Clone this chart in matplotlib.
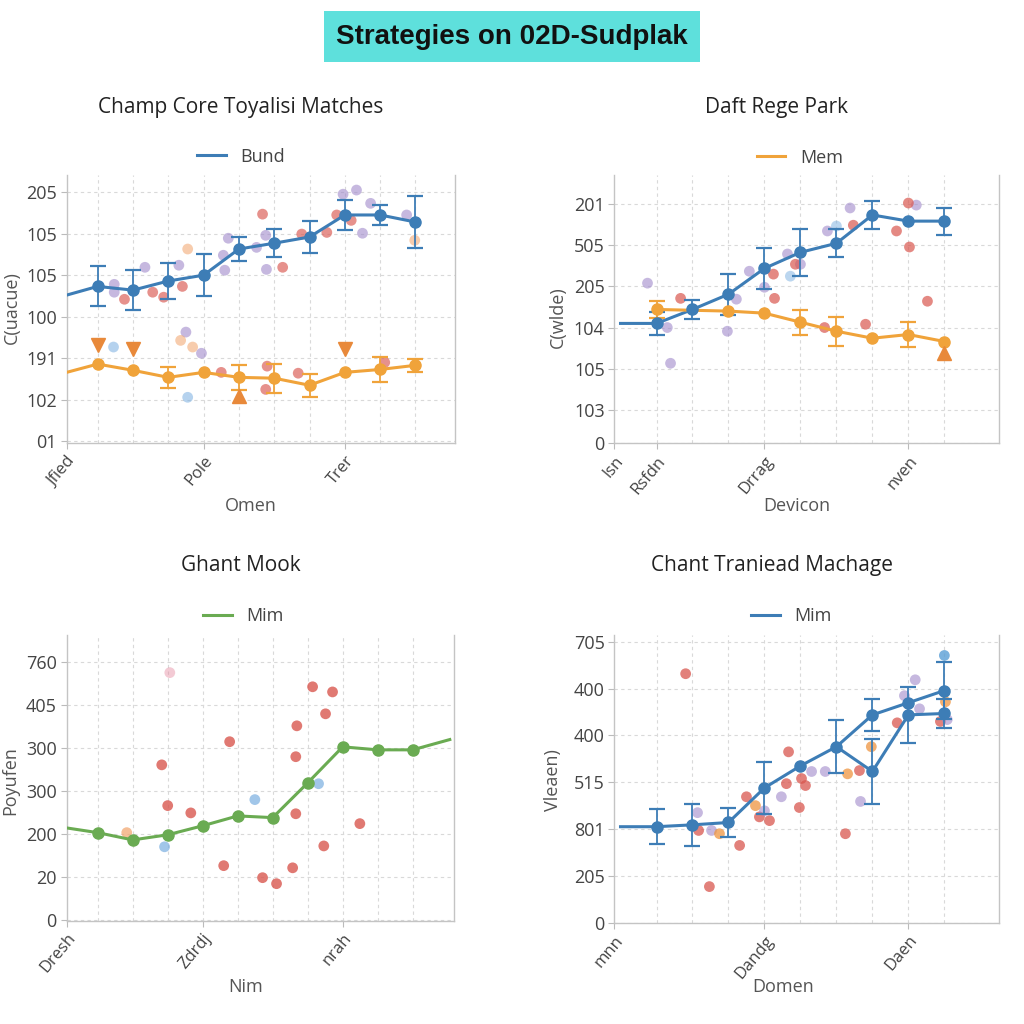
"""Four panel strategy chart: lines with error bars over scattered dots."""
import matplotlib
matplotlib.use('Agg')
import matplotlib.pyplot as plt

plt.rcParams.update({
    'font.family': ['Open Sans', 'DejaVu Sans'],
    'font.size': 12,
    'axes.linewidth': 1.0,
})

C_BLUE = '#3d7db6'
C_ORANGE = '#f0a33a'
C_GREEN = '#6aab52'
C_RED = '#d9574f'
C_PURPLE = '#a08acb'
C_LBLUE = '#79aee0'
C_PINK = '#e58aa0'
C_LORANGE = '#f2a36a'

# ---- panel 1 : Champ Core Toyalisi Matches ----
p1_ylabels = ['01', '102', '191', '100', '105', '105', '205']
p1_xlabels = ['Jfied', 'Pole', 'Trer']
p1_xticks = [0.12, 4, 8]
p1_blue_x = [0.12, 1, 2, 3, 4, 5, 6, 7, 8, 9, 10]
p1_blue_y = [3.52, 3.73, 3.64, 3.86, 4.00, 4.63, 4.77, 4.92, 5.45, 5.45, 5.28]
p1_blue_err = [0, 0.48, 0.48, 0.43, 0.50, 0.29, 0.34, 0.38, 0.36, 0.25, 0.63]
p1_orange_x = [0.12, 1, 2, 3, 4, 5, 6, 7, 8, 9, 10]
p1_orange_y = [1.66, 1.86, 1.71, 1.54, 1.66, 1.54, 1.52, 1.35, 1.66, 1.73, 1.83]
p1_orange_err = [0, 0, 0, 0.25, 0, 0.3, 0.35, 0.28, 0, 0.3, 0.15]
p1_tri_down_x = [1, 2, 8]
p1_tri_down_y = [2.31, 2.22, 2.22]
p1_tri_up_x = [5]
p1_tri_up_y = [1.08]
p1_purple_x = [1.47, 1.47, 2.34, 3.3, 4.7, 4.6, 4.56, 5.5, 5.76, 5.78, 7.95, 8.33, 8.73, 8.5, 9.75, 3.5, 3.94]
p1_purple_y = [3.78, 3.59, 4.19, 4.24, 4.89, 4.12, 4.48, 4.67, 4.96, 4.14, 5.95, 6.05, 5.73, 5.01, 5.45, 2.63, 2.12]
p1_red_x = [1.76, 2.56, 2.87, 3.4, 5.67, 6.24, 7.49, 7.77, 6.78, 8.18, 4.5, 5.8, 5.76, 6.68, 9.13]
p1_red_y = [3.42, 3.59, 3.47, 3.73, 5.47, 4.19, 5.03, 5.45, 4.99, 5.32, 1.66, 1.81, 1.25, 1.64, 1.90]
p1_lorange_x = [3.55, 3.35, 3.69, 9.98]
p1_lorange_y = [4.63, 2.43, 2.27, 4.84]
p1_lblue_x = [1.45, 3.55]
p1_lblue_y = [2.27, 1.06]

# ---- panel 2 : Daft Rege Park ----
p2_ylabels = ['0', '103', '105', '104', '205', '505', '201']
p2_yticks = [0, 0.8, 1.8, 2.8, 3.8, 4.8, 5.8]
p2_xlabels = ['lsn', 'Rsfdn', 'Drrag', 'nven']
p2_xticks = [-0.17, 1, 4, 8]
p2_blue_x = [0, 1, 2, 3, 4, 5, 6, 7, 8, 9]
p2_blue_y = [2.90, 2.90, 3.24, 3.61, 4.24, 4.63, 4.85, 5.54, 5.39, 5.39]
p2_blue_err = [0, 0.29, 0.24, 0.50, 0.50, 0.58, 0.34, 0.35, 0, 0.33]
p2_orange_x = [1, 3, 4, 5, 6, 7, 8, 9]
p2_orange_y = [3.24, 3.20, 3.15, 2.93, 2.71, 2.54, 2.63, 2.46]
p2_orange_err = [0.2, 0, 0, 0.3, 0.35, 0, 0.3, 0]
p2_tri_up_x = [9]
p2_tri_up_y = [2.17]
p2_purple_x = [0.75, 1.3, 1.39, 2.97, 3.22, 3.58, 4.0, 4.64, 5.0, 5.75, 6.38, 8.22]
p2_purple_y = [3.88, 2.80, 1.93, 2.71, 3.49, 4.17, 3.78, 4.59, 4.34, 5.15, 5.71, 5.78]
p2_red_x = [1.67, 4.25, 4.28, 4.86, 5.67, 6.47, 6.81, 7.67, 8.0, 8.03, 8.53]
p2_red_y = [3.51, 4.10, 3.51, 4.34, 2.80, 5.29, 2.88, 5.15, 5.83, 4.76, 3.44]
p2_lblue_x = [4.72, 6.0]
p2_lblue_y = [4.05, 5.27]

# ---- panel 3 : Ghant Mook ----
p3_ylabels = ['0', '20', '200', '300', '300', '405', '760']
p3_xlabels = ['Dresh', 'Zdrdj', 'nrah']
p3_xticks = [0.11, 4, 8]
p3_green_x = [0.11, 1, 2, 3, 4, 5, 6, 7, 8, 9, 10, 11.06]
p3_green_y = [2.14, 2.03, 1.86, 1.98, 2.19, 2.42, 2.38, 3.19, 4.03, 3.96, 3.96, 4.20]
p3_green_mk = [False, True, True, True, True, True, True, True, True, True, True, False]
p3_red_x = [2.83, 3.0, 3.66, 4.77, 4.6, 5.71, 6.11, 6.57, 6.66, 6.66, 6.69, 7.14, 7.71, 7.51, 7.46, 8.49]
p3_red_y = [3.61, 2.66, 2.49, 4.15, 1.26, 0.98, 0.84, 1.21, 2.47, 3.80, 4.52, 5.43, 5.31, 4.80, 1.72, 2.24]
p3_pink_x = [3.06]
p3_pink_y = [5.76]
p3_orange_x = [1.83]
p3_orange_y = [2.03]
p3_blue_x = [2.91, 5.49, 7.31]
p3_blue_y = [1.70, 2.80, 3.17]

# ---- panel 4 : Chant Traniead Machage ----
p4_ylabels = ['0', '205', '801', '515', '400', '400', '705']
p4_xlabels = ['mnn', 'Dandg', 'Daen']
p4_xticks = [-0.17, 4, 8]
p4_a_x = [0, 1, 2, 3, 4, 5, 6, 7, 8, 9]
p4_a_y = [2.05, 2.05, 2.09, 2.14, 2.88, 3.35, 3.76, 4.44, 4.70, 4.96]
p4_a_err = [0, 0.38, 0.45, 0.30, 0.55, 0, 0.57, 0.34, 0, 0.60]
p4_b_x = [6, 7, 8, 9]
p4_b_y = [3.76, 3.23, 4.44, 4.47]
p4_b_err = [0, 0.70, 0.60, 0.30]
p4_red_x = [1.81, 2.47, 3.31, 3.5, 3.86, 4.14, 2.17, 4.67, 4.61, 4.97, 5.03, 5.14, 6.64, 6.25, 7.69, 8.89]
p4_red_y = [5.32, 0.77, 1.65, 2.69, 2.26, 2.18, 1.97, 3.65, 2.97, 2.46, 3.08, 2.93, 3.25, 1.90, 4.27, 4.30]
p4_purple_x = [4.0, 2.53, 2.14, 4.47, 5.31, 5.69, 6.67, 7.89, 8.19, 8.31, 9.08]
p4_purple_y = [2.39, 1.97, 2.35, 2.69, 3.23, 3.23, 2.59, 4.85, 5.19, 4.57, 4.34]
p4_orange_x = [3.75, 2.75, 6.31, 6.97, 9.03]
p4_orange_y = [2.50, 1.90, 3.18, 3.76, 4.72]
p4_blue_x = [9.0]
p4_blue_y = [5.71]

GRID_KW = dict(color='#d9d9d9', lw=0.8, ls=(0, (3, 3)))


def style_axes(ax, xlim, ylim, yticks, ylabels, xticks, xlabels, vlines):
    ax.set_xlim(*xlim)
    ax.set_ylim(*ylim)
    ax.set_yticks(yticks)
    ax.set_yticklabels(ylabels, fontsize=13, color='#444444')
    ax.set_xticks(xticks)
    ax.set_xticklabels(xlabels, rotation=50, ha='right', rotation_mode='anchor',
                       fontsize=12, color='#444444')
    for y in yticks:
        ax.axhline(y, zorder=0, **GRID_KW)
    for x in vlines:
        ax.axvline(x, zorder=0, **GRID_KW)
    ax.spines['top'].set_visible(False)
    for s in ('left', 'bottom', 'right'):
        ax.spines[s].set_color('#c4c4c4')
    ax.tick_params(axis='both', length=4, color='#bbbbbb', pad=3)


def dots(ax, x, y, color, alpha=0.75):
    ax.scatter(x, y, s=60, color=color, alpha=alpha, edgecolors='none', zorder=2)


def line_err(ax, x, y, err, color, mk=True):
    ax.plot(x, y, '-', color=color, lw=2.2, zorder=3)
    if mk:
        ax.plot(x[1:], y[1:], 'o', color=color, ms=8, zorder=4)
    ex = [a for a, e in zip(x, err) if e > 0]
    ey = [b for b, e in zip(y, err) if e > 0]
    ee = [e for e in err if e > 0]
    ax.errorbar(ex, ey, yerr=ee, fmt='none', ecolor=color, elinewidth=1.3,
                capsize=6, capthick=1.6, zorder=3)


fig = plt.figure(figsize=(10.24, 10.24), dpi=100)

fig.text(0.5, 0.964, 'Strategies on 02D-Sudplak', ha='center', va='center',
         fontsize=20, fontweight='bold', color='#111111',
         family=['Liberation Sans', 'DejaVu Sans'],
         bbox=dict(boxstyle='square,pad=0.45', fc='#5ee0dc', ec='none'))

ax1 = fig.add_axes([0.065, 0.567, 0.379, 0.262])
ax2 = fig.add_axes([0.600, 0.567, 0.376, 0.262])
ax3 = fig.add_axes([0.065, 0.101, 0.378, 0.279])
ax4 = fig.add_axes([0.600, 0.099, 0.376, 0.281])

# panel 1
style_axes(ax1, (0.12, 11.11), (-0.05, 6.41), range(7), p1_ylabels,
           p1_xticks, p1_xlabels, range(1, 11))
dots(ax1, p1_purple_x, p1_purple_y, C_PURPLE, 0.6)
dots(ax1, p1_red_x, p1_red_y, C_RED, 0.65)
dots(ax1, p1_lorange_x, p1_lorange_y, C_LORANGE, 0.55)
dots(ax1, p1_lblue_x, p1_lblue_y, C_LBLUE, 0.55)
line_err(ax1, p1_blue_x, p1_blue_y, p1_blue_err, C_BLUE)
line_err(ax1, p1_orange_x, p1_orange_y, p1_orange_err, C_ORANGE)
ax1.plot(p1_tri_down_x, p1_tri_down_y, 'v', color='#e8893a', ms=10, zorder=4)
ax1.plot(p1_tri_up_x, p1_tri_up_y, '^', color='#e8893a', ms=10, zorder=4)
ax1.plot([], [], '-', color=C_BLUE, lw=2.2, label='Bund')
ax1.legend(loc='center', bbox_to_anchor=(0.235, 0.847), bbox_transform=fig.transFigure,
           frameon=False, fontsize=13, handlelength=1.6, labelcolor='#444444')

# panel 2
style_axes(ax2, (-0.17, 10.53), (-0.02, 6.51), p2_yticks, p2_ylabels,
           p2_xticks, p2_xlabels, range(1, 10))
dots(ax2, p2_purple_x, p2_purple_y, C_PURPLE, 0.6)
dots(ax2, p2_red_x, p2_red_y, C_RED, 0.7)
dots(ax2, p2_lblue_x, p2_lblue_y, C_LBLUE, 0.5)
line_err(ax2, p2_blue_x, p2_blue_y, p2_blue_err, C_BLUE)
ax2.plot(p2_orange_x, p2_orange_y, '-', color=C_ORANGE, lw=2.2, zorder=3)
ax2.plot(p2_orange_x, p2_orange_y, 'o', color=C_ORANGE, ms=8, zorder=4)
ax2.errorbar([a for a, e in zip(p2_orange_x, p2_orange_err) if e > 0],
             [b for b, e in zip(p2_orange_y, p2_orange_err) if e > 0],
             yerr=[e for e in p2_orange_err if e > 0], fmt='none', ecolor=C_ORANGE,
             elinewidth=1.3, capsize=6, capthick=1.6, zorder=3)
ax2.plot(p2_tri_up_x, p2_tri_up_y, '^', color='#e8893a', ms=10, zorder=4)
ax2.plot([], [], '-', color=C_ORANGE, lw=2.2, label='Mem')
ax2.legend(loc='center', bbox_to_anchor=(0.781, 0.846), bbox_transform=fig.transFigure,
           frameon=False, fontsize=13, handlelength=1.6, labelcolor='#444444')

# panel 3
style_axes(ax3, (0.11, 11.17), (-0.02, 6.64), range(7), p3_ylabels,
           p3_xticks, p3_xlabels, range(1, 11))
dots(ax3, p3_red_x, p3_red_y, C_RED, 0.8)
dots(ax3, p3_pink_x, p3_pink_y, C_PINK, 0.45)
dots(ax3, p3_orange_x, p3_orange_y, C_LORANGE, 0.7)
dots(ax3, p3_blue_x, p3_blue_y, C_LBLUE, 0.7)
ax3.plot(p3_green_x, p3_green_y, '-', color=C_GREEN, lw=2.2, zorder=3)
ax3.plot([a for a, m in zip(p3_green_x, p3_green_mk) if m],
         [b for b, m in zip(p3_green_y, p3_green_mk) if m], 'o', color=C_GREEN, ms=8, zorder=4)
ax3.plot([], [], '-', color=C_GREEN, lw=2.2, label='Mim')
ax3.legend(loc='center', bbox_to_anchor=(0.238, 0.398), bbox_transform=fig.transFigure,
           frameon=False, fontsize=13, handlelength=1.6, labelcolor='#444444')

# panel 4
style_axes(ax4, (-0.17, 10.53), (0, 6.15), range(7), p4_ylabels,
           p4_xticks, p4_xlabels, range(1, 10))
dots(ax4, p4_red_x, p4_red_y, C_RED, 0.75)
dots(ax4, p4_purple_x, p4_purple_y, C_PURPLE, 0.6)
dots(ax4, p4_orange_x, p4_orange_y, '#ee9440', 0.75)
dots(ax4, p4_blue_x, p4_blue_y, '#5a9fd6', 0.8)
line_err(ax4, p4_a_x, p4_a_y, p4_a_err, C_BLUE)
ax4.plot(p4_b_x, p4_b_y, '-', color=C_BLUE, lw=2.2, zorder=3)
ax4.plot(p4_b_x[1:], p4_b_y[1:], 'o', color=C_BLUE, ms=8, zorder=4)
ax4.errorbar(p4_b_x[1:], p4_b_y[1:], yerr=p4_b_err[1:], fmt='none', ecolor=C_BLUE,
             elinewidth=1.3, capsize=6, capthick=1.6, zorder=3)
ax4.plot([], [], '-', color=C_BLUE, lw=2.2, label='Mim')
ax4.legend(loc='center', bbox_to_anchor=(0.773, 0.398), bbox_transform=fig.transFigure,
           frameon=False, fontsize=13, handlelength=1.6, labelcolor='#444444')

# titles and axis labels
for x, y, t in [(0.235, 0.895, 'Champ Core Toyalisi Matches'), (0.758, 0.895, 'Daft Rege Park'),
                (0.235, 0.448, 'Ghant Mook'), (0.754, 0.448, 'Chant Traniead Machage')]:
    fig.text(x, y, t, ha='center', va='center', fontsize=15, color='#222222')
for x, y, t in [(0.245, 0.506, 'Omen'), (0.778, 0.506, 'Devicon'),
                (0.240, 0.036, 'Nim'), (0.765, 0.036, 'Domen')]:
    fig.text(x, y, t, ha='center', va='center', fontsize=13, color='#555555')
for x, y, t in [(0.012, 0.70, 'C(uacue)'), (0.545, 0.69, 'C(wlde)'),
                (0.010, 0.238, 'Poyufen'), (0.540, 0.238, 'Vleaen)')]:
    fig.text(x, y, t, ha='center', va='center', rotation=90, fontsize=13, color='#555555')

fig.savefig('out.png', dpi=100, facecolor='white')
